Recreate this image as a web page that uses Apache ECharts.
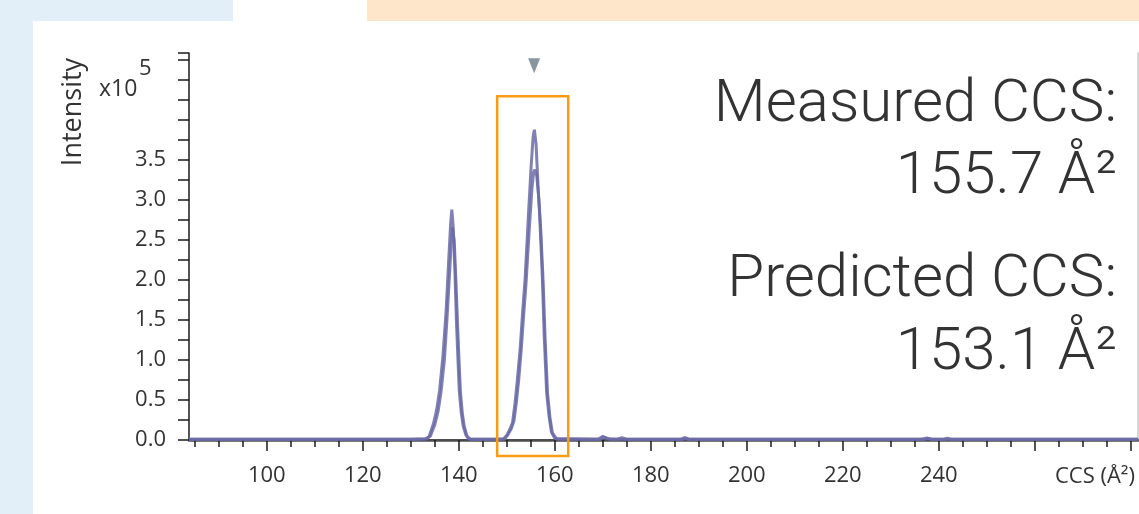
<!DOCTYPE html>
<html><head><meta charset="utf-8">
<script src="https://cdn.jsdelivr.net/npm/echarts@6.0.0/dist/echarts.min.js"></script>
<style>
html,body{margin:0;padding:0;width:1139px;height:514px;overflow:hidden;background:#e3eff8;}
#bgw{position:absolute;left:233px;top:0;width:134px;height:21px;background:#ffffff}
#bgp{position:absolute;left:367px;top:0;width:772px;height:21px;background:#fee6cb}
#card{position:absolute;left:33px;top:21px;width:1106px;height:493px;background:#ffffff}
#chart{position:absolute;left:0;top:0;width:1139px;height:514px}
</style></head><body>
<div id="bgw"></div><div id="bgp"></div><div id="card"></div>
<div id="chart"></div>
<script>
// ---- data (CCS in Å², intensity in 1e5) ----
const ccsA = [83.8,100,115,128,131,133,133.8,134.7,135.4,136,136.7,137.35,137.9,138.3,138.55,138.8,139.2,139.5,139.8,140.1,140.5,140.9,141.5,142.1,144,147,149.3,150,150.7,151.2,151.7,152.2,152.8,153.3,153.8,154.5,155.1,155.5,155.75,156.1,156.5,156.9,157.4,157.8,158.3,158.8,159.3,160,161,165,169,170,171,173,174,175,186.3,187,187.7,200,220,236.5,237.5,238.5,241,241.8,242.6,260,281.5];
const intensityA = [0.01,0.01,0.01,0.01,0.01,0.012,0.04,0.2,0.38,0.62,1.05,1.6,2.25,2.7,2.88,2.7,2.1,1.5,1.05,0.62,0.35,0.18,0.06,0.012,0.01,0.01,0.012,0.06,0.14,0.22,0.45,0.75,1.15,1.6,2.0,2.8,3.45,3.8,3.88,3.7,3.2,2.75,2.05,1.3,0.6,0.3,0.1,0.02,0.01,0.01,0.01,0.045,0.015,0.01,0.03,0.01,0.01,0.03,0.01,0.01,0.01,0.01,0.025,0.01,0.01,0.022,0.01,0.01,0.01];
const ccsB = [83.8,110,130,133.3,134.1,135,135.7,136.3,137,137.55,138.1,138.45,138.7,139.05,139.4,139.75,140.05,140.35,140.75,141.15,141.7,142.4,148,149.6,150.3,151,151.5,152,152.5,153,153.5,154,154.7,155.25,155.6,155.85,156.25,156.7,157.1,157.6,158,158.5,159,159.5,160.3,169.5,170.3,171.5,186.8,187.3,188,237,237.8,238.6,281.5];
const intensityB = [0.01,0.01,0.01,0.015,0.05,0.19,0.36,0.6,1.0,1.52,2.1,2.5,2.66,2.5,2.0,1.45,1.0,0.6,0.33,0.17,0.05,0.01,0.01,0.015,0.07,0.15,0.24,0.47,0.76,1.12,1.55,1.95,2.65,3.15,3.35,3.38,3.3,3.0,2.6,1.95,1.25,0.58,0.28,0.09,0.02,0.01,0.035,0.01,0.01,0.025,0.01,0.01,0.02,0.01,0.01];
const measuredCCS = 155.7;
const markerIntensity = 4.68;
const highlightCCS = [148, 162.8];
const highlightIntensity = [-0.2, 4.3];
const xRange = [83.8, 281.5];
const yRange = [0, 4.84];
const textLines = ['Measured CCS:', '155.7 Å²', 'Predicted CCS:', '153.1 Å²'];

const FONT = '"Open Sans", "Liberation Sans", sans-serif';
const LINE = '#6b6ba7';
const pairsA = ccsA.map((x, i) => [x, intensityA[i]]);
const pairsB = ccsB.map((x, i) => [x, intensityB[i]]);

const chart = echarts.init(document.getElementById('chart'), null, {renderer: 'canvas'});
const hidden = {show: false};
const gridBase = {top: 53, bottom: 74, outerBoundsMode: 'none', containLabel: false};
chart.setOption({
  animation: false,
  backgroundColor: 'transparent',
  grid: [
    Object.assign({left: 189, right: 1}, gridBase),
    Object.assign({left: 194.76, right: 8.24}, gridBase),
    Object.assign({left: 266.76, right: 8.24}, gridBase)
  ],
  xAxis: [
    {type: 'value', gridIndex: 0, min: xRange[0], max: xRange[1], position: 'bottom',
     axisLine: {show: true, lineStyle: {color: '#1a1a1a', width: 1.5}}, axisTick: hidden, axisLabel: hidden, splitLine: hidden},
    {type: 'value', gridIndex: 0, min: xRange[0], max: xRange[1], position: 'top',
     axisLine: {show: true, lineStyle: {color: '#4d4d4d', width: 2.5}}, axisTick: hidden, axisLabel: hidden, splitLine: hidden},
    {type: 'value', gridIndex: 1, min: 85, max: 280, interval: 5, position: 'bottom',
     axisLine: hidden, axisTick: {show: true, length: 7, lineStyle: {color: '#1a1a1a', width: 1.5}}, axisLabel: hidden, splitLine: hidden},
    {type: 'value', gridIndex: 2, min: 100, max: 280, interval: 20, position: 'bottom',
     axisLine: hidden, axisTick: {show: true, length: 11, lineStyle: {color: '#1a1a1a', width: 1.5}},
     axisLabel: {show: true, margin: 25, fontSize: 22, fontFamily: FONT, color: '#333',
       formatter: v => (v <= 240 ? String(v) : '')},
     splitLine: hidden}
  ],
  yAxis: [
    {type: 'value', gridIndex: 0, min: yRange[0], max: yRange[1], interval: 0.25, position: 'left',
     axisLine: {show: true, lineStyle: {color: '#1a1a1a', width: 1.5}},
     axisTick: {show: true, length: 11, lineStyle: {color: '#1a1a1a', width: 1.5}},
     axisLabel: {show: true, margin: 23, fontSize: 22, fontFamily: FONT, color: '#333',
       formatter: v => (v <= 3.5001 && Math.abs(v * 2 - Math.round(v * 2)) < 1e-6 ? v.toFixed(1) : '')},
     splitLine: hidden},
    {type: 'value', gridIndex: 0, min: yRange[0], max: yRange[1], position: 'right',
     axisLine: {show: true, lineStyle: {color: '#c8c8c8', width: 1.5}}, axisTick: hidden, axisLabel: hidden, splitLine: hidden},
    {type: 'value', gridIndex: 1, min: 0, max: 1, show: false},
    {type: 'value', gridIndex: 2, min: 0, max: 1, show: false}
  ],
  series: [
    {type: 'line', xAxisIndex: 0, yAxisIndex: 0, data: pairsB, showSymbol: false, z: 3,
     lineStyle: {color: LINE, width: 3, opacity: 0.85}},
    {type: 'line', xAxisIndex: 0, yAxisIndex: 0, data: pairsA, showSymbol: false, z: 4,
     lineStyle: {color: LINE, width: 3, opacity: 0.85}},
    {type: 'scatter', xAxisIndex: 0, yAxisIndex: 0, data: [[measuredCCS, markerIntensity]],
     symbol: 'triangle', symbolRotate: 180, symbolSize: [12, 15], z: 5,
     itemStyle: {color: '#6a7c89'}}
  ]
});

const p1 = chart.convertToPixel({gridIndex: 0}, [highlightCCS[0], highlightIntensity[1]]);
const p2 = chart.convertToPixel({gridIndex: 0}, [highlightCCS[1], highlightIntensity[0]]);
const bigStyle = {fontSize: 60, fontFamily: 'Roboto, "Open Sans", sans-serif', fontWeight: 300, fill: '#333', align: 'right', verticalAlign: 'middle'};
const bigY = [106, 178, 281, 354];
chart.setOption({
  graphic: [
    {type: 'rect', z: 100, shape: {x: p1[0], y: p1[1], width: p2[0] - p1[0], height: p2[1] - p1[1]},
     style: {fill: 'none', stroke: '#fb9a14', lineWidth: 2.5}},
    {type: 'text', x: 73, y: 112, rotation: Math.PI / 2,
     style: {text: 'Intensity', fontSize: 27, fontFamily: FONT, fill: '#333', align: 'center', verticalAlign: 'middle'}},
    {type: 'text', x: 99, y: 89,
     style: {text: 'x10', fontSize: 23, fontFamily: FONT, fill: '#333', align: 'left', verticalAlign: 'middle'}},
    {type: 'text', x: 139, y: 69,
     style: {text: '5', fontSize: 22, fontFamily: FONT, fill: '#333', align: 'left', verticalAlign: 'middle'}},
    {type: 'text', x: 1135, y: 477,
     style: {text: 'CCS (Å²)', fontSize: 22, fontFamily: FONT, fill: '#333', align: 'right', verticalAlign: 'middle'}}
  ].concat(textLines.map((t, i) => ({type: 'text', x: 1117, y: bigY[i], style: Object.assign({text: t}, bigStyle)})))
});
</script></body></html>
